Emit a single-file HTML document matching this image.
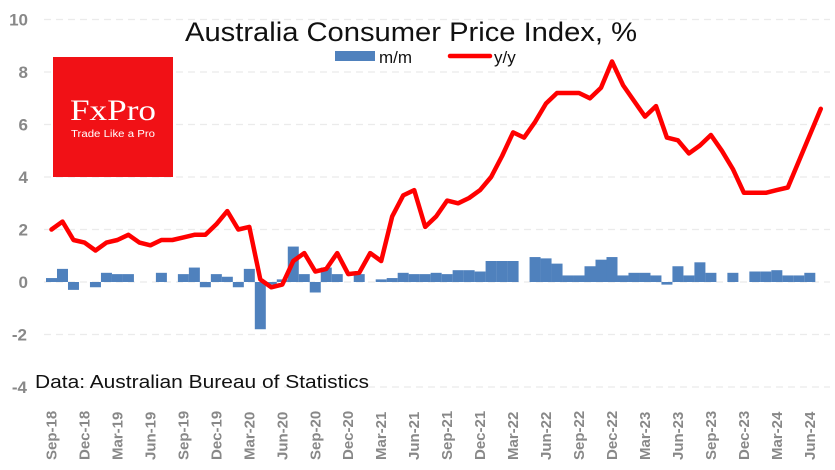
<!DOCTYPE html>
<html><head><meta charset="utf-8"><style>
html,body{margin:0;padding:0;background:#fff;}
svg{display:block;font-family:"Liberation Sans",sans-serif;}
</style></head><body>
<svg id="chart" width="835" height="470" viewBox="0 0 835 470" xmlns="http://www.w3.org/2000/svg">
<g id="grid"></g>
<g id="yticks"></g>
<g id="bars"></g>
<path id="line" fill="none" stroke="#ff0000" stroke-width="4.5" stroke-linejoin="round" stroke-linecap="round"></path>
<g id="xticks"></g>
<text x="411" y="41" font-size="27" text-anchor="middle" textLength="452" lengthAdjust="spacingAndGlyphs" fill="#111">Australia Consumer Price Index, %</text>
<g>
<rect x="335" y="51" width="40" height="10" fill="#4f81bd"/>
<text x="379" y="63" font-size="17" fill="#111">m/m</text>
<line x1="450" y1="56" x2="490" y2="56" stroke="#ff0000" stroke-width="4.5" stroke-linecap="round"/>
<text x="494" y="63" font-size="17" fill="#111">y/y</text>
</g>
<g>
<rect x="53" y="57" width="120" height="120" fill="#f11116"/>
<text x="113" y="120" font-family="'Liberation Serif',serif" font-size="30" fill="#fff" text-anchor="middle" textLength="86" lengthAdjust="spacingAndGlyphs">FxPro</text>
<text x="113" y="137" font-size="10" fill="#fff" text-anchor="middle" textLength="84" lengthAdjust="spacingAndGlyphs">Trade Like a Pro</text>
</g>
<text x="35" y="388" font-size="18" fill="#111" textLength="334" lengthAdjust="spacingAndGlyphs">Data: Australian Bureau of Statistics</text>
</svg>
<script>
const months=["Sep-18","Oct-18","Nov-18","Dec-18","Jan-19","Feb-19","Mar-19","Apr-19","May-19","Jun-19","Jul-19","Aug-19","Sep-19","Oct-19","Nov-19","Dec-19","Jan-20","Feb-20","Mar-20","Apr-20","May-20","Jun-20","Jul-20","Aug-20","Sep-20","Oct-20","Nov-20","Dec-20","Jan-21","Feb-21","Mar-21","Apr-21","May-21","Jun-21","Jul-21","Aug-21","Sep-21","Oct-21","Nov-21","Dec-21","Jan-22","Feb-22","Mar-22","Apr-22","May-22","Jun-22","Jul-22","Aug-22","Sep-22","Oct-22","Nov-22","Dec-22","Jan-23","Feb-23","Mar-23","Apr-23","May-23","Jun-23","Jul-23","Aug-23","Sep-23","Oct-23","Nov-23","Dec-23","Jan-24","Feb-24","Mar-24","Apr-24","May-24","Jun-24","Jul-24"];
const yoy=[2.0,2.3,1.6,1.5,1.2,1.5,1.6,1.8,1.5,1.4,1.6,1.6,1.7,1.8,1.8,2.2,2.7,2.0,2.1,0.1,-0.2,-0.1,0.8,1.1,0.4,0.5,1.1,0.3,0.35,1.1,0.8,2.5,3.3,3.5,2.1,2.5,3.1,3.0,3.2,3.5,4.0,4.8,5.7,5.5,6.1,6.8,7.2,7.2,7.2,7.0,7.4,8.4,7.5,6.9,6.3,6.7,5.5,5.4,4.9,5.2,5.6,5.0,4.3,3.4,3.4,3.4,3.5,3.6,4.6,5.6,6.6];
const mom=[0.15,0.5,-0.3,0,-0.2,0.35,0.3,0.3,0,0,0.35,0,0.3,0.55,-0.2,0.3,0.2,-0.2,0.5,-1.8,-0.1,0.1,1.35,0.3,-0.4,0.55,0.3,0,0.3,0,0.1,0.15,0.35,0.3,0.3,0.35,0.3,0.45,0.45,0.4,0.8,0.8,0.8,0,0.95,0.9,0.7,0.25,0.25,0.6,0.85,0.95,0.25,0.35,0.35,0.25,-0.1,0.6,0.25,0.75,0.35,0,0.35,0,0.4,0.4,0.45,0.25,0.25,0.35,0];
const yTicks=[10,8,6,4,2,0,-2,-4];
const xLabels=["Sep-18","Dec-18","Mar-19","Jun-19","Sep-19","Dec-19","Mar-20","Jun-20","Sep-20","Dec-20","Mar-21","Jun-21","Sep-21","Dec-21","Mar-22","Jun-22","Sep-22","Dec-22","Mar-23","Jun-23","Sep-23","Dec-23","Mar-24","Jun-24"];
const NS="http://www.w3.org/2000/svg";
const yS=v=>282-26.25*v;
const xS=i=>51.5+i*10.99;
function mk(tag,attrs,parent){const e=document.createElementNS(NS,tag);for(const k in attrs)e.setAttribute(k,attrs[k]);parent.appendChild(e);return e;}
const grid=document.getElementById('grid'),yt=document.getElementById('yticks');
yTicks.forEach(v=>{
  const l=mk('line',{x1:44,x2:830,y1:yS(v),y2:yS(v),stroke:'#ebebeb','stroke-width':1.3,'stroke-dasharray':'7,5'},grid);
  
  
  const t=mk('text',{x:v<0?27:28,y:yS(v)+6,'font-size':17,'font-weight':'bold',fill:'#888','text-anchor':'end'},yt);
  t.textContent=v<0?'-'+Math.abs(v):String(v);
  
  
});
const bars=document.getElementById('bars');
mom.forEach((v,i)=>{
  if(v===0)return;
  const y0=yS(0),y1=yS(v);
  const r=mk('rect',{x:xS(i)-5.5,width:11,y:Math.min(y0,y1),height:Math.abs(y1-y0),fill:'#4f81bd'},bars);
  
  
});
document.getElementById('line').setAttribute('d',yoy.map((v,i)=>(i?'L':'M')+xS(i).toFixed(1)+','+yS(v).toFixed(1)).join(''));
const xt=document.getElementById('xticks');
xLabels.forEach(lb=>{
  const i=months.indexOf(lb);
  const x=xS(i)+5;
  const t=mk('text',{x:x,y:460,'font-size':15,'font-weight':'bold',fill:'#888',transform:`rotate(-90 ${x} 460)`},xt);
  t.textContent=lb;
  
  
});
</script>
</body></html>
